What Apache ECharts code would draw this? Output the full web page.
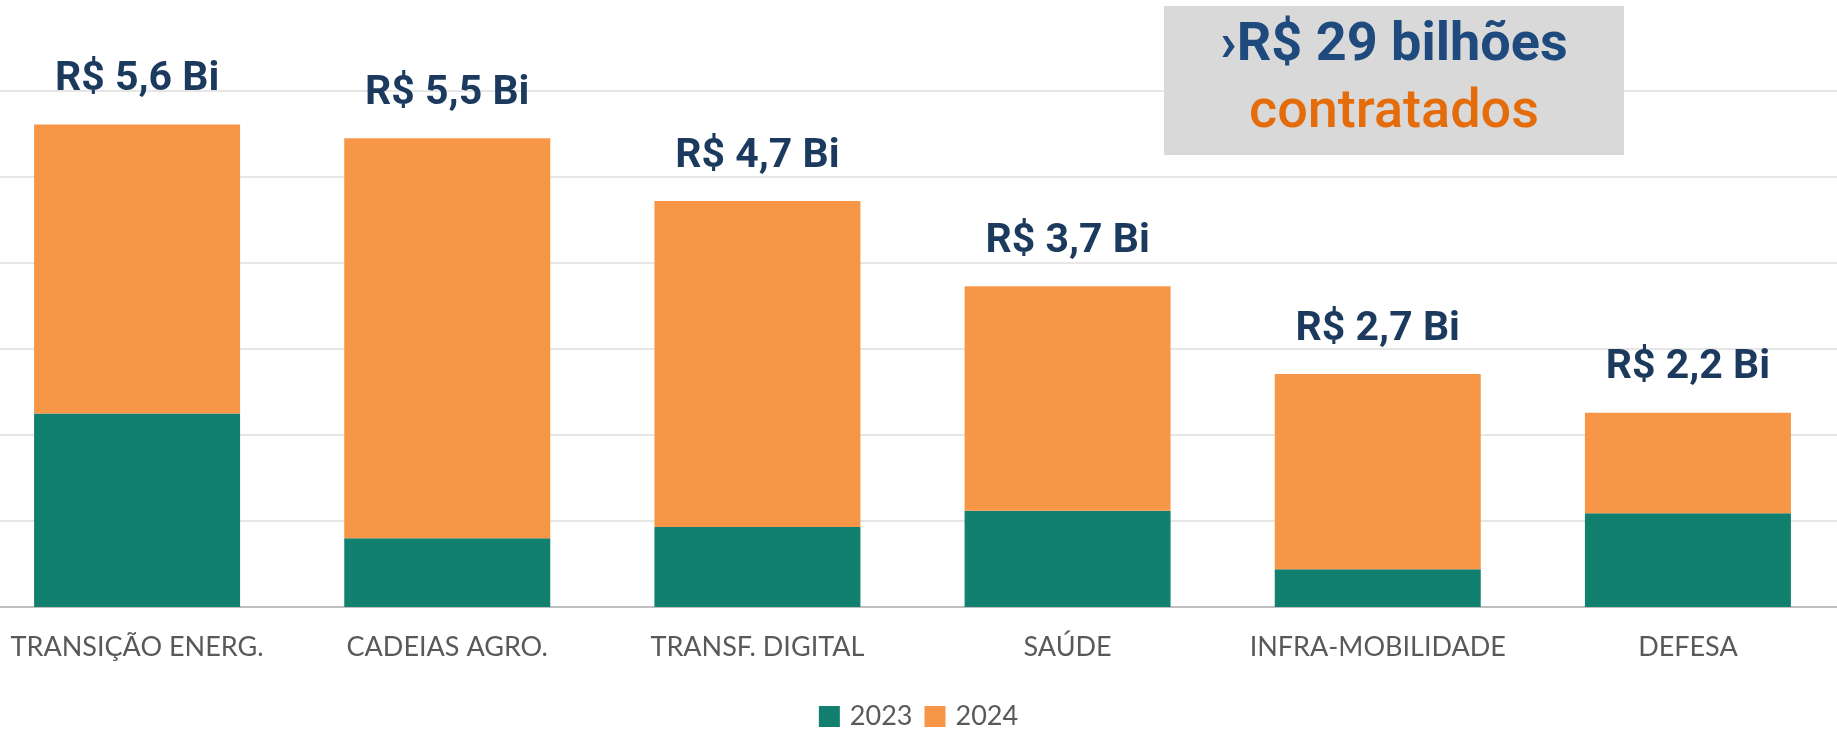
<!DOCTYPE html>
<html>
<head>
<meta charset="utf-8">
<title>Contratados por área</title>
<script src="https://cdn.jsdelivr.net/npm/echarts@6/dist/echarts.min.js"></script>
<style>
  html, body { margin: 0; padding: 0; background: #fff; }
  #chart { width: 1837px; height: 732px; }
</style>
</head>
<body>
<div id="chart"></div>
<script>
// valores em R$ bilhões
const categorias = ['TRANSIÇÃO ENERG.', 'CADEIAS AGRO.', 'TRANSF. DIGITAL', 'SAÚDE', 'INFRA-MOBILIDADE', 'DEFESA']
const valores2023 = [2.25, 0.80, 0.93, 1.12, 0.44, 1.09]
const valores2024 = [3.36, 4.65, 3.79, 2.61, 2.27, 1.17]
const rotulosTotal = ['R$ 5,6 Bi', 'R$ 5,5 Bi', 'R$ 4,7 Bi', 'R$ 3,7 Bi', 'R$ 2,7 Bi', 'R$ 2,2 Bi']
const anos = ['2023', '2024']

const chart = echarts.init(document.getElementById('chart'))

const option = {
  animation: false,
  color: ['#12806F', '#F79646'],
  grid: {
    left: -18,
    right: -6,
    top: 91,
    bottom: 125,
    outerBoundsMode: 'none',
  },
  legend: {
    data: anos,
    top: 703,
    left: 'center',
    padding: 0,
    icon: 'rect',
    itemWidth: 21,
    itemHeight: 21,
    itemGap: 12,
    textStyle: {
      fontFamily: 'Lato',
      fontSize: 27,
      color: '#595959',
      padding: [0, 0, 0, 5],
    },
  },
  xAxis: {
    type: 'category',
    data: categorias,
    axisTick: { show: false },
    axisLine: { lineStyle: { color: '#BFBFBF', width: 2 } },
    axisLabel: {
      fontFamily: 'Lato',
      fontSize: 27,
      color: '#595959',
      margin: 27,
      interval: 0,
    },
  },
  yAxis: {
    type: 'value',
    min: 0,
    max: 6,
    interval: 1,
    axisLabel: { show: false },
    axisLine: { show: false },
    axisTick: { show: false },
    splitLine: { lineStyle: { color: '#E6E6E6', width: 2 } },
  },
  series: [
    {
      name: anos[0],
      type: 'bar',
      stack: 'total',
      barWidth: 206,
      data: valores2023,
    },
    {
      name: anos[1],
      type: 'bar',
      stack: 'total',
      barWidth: 206,
      data: valores2024,
      label: {
        show: true,
        position: 'top',
        distance: 24,
        formatter: (p) => rotulosTotal[p.dataIndex],
        fontFamily: 'Roboto',
        fontWeight: 'bold',
        fontSize: 41,
        color: '#1C3A5E',
      },
    },
  ],
  graphic: [
    {
      type: 'rect',
      shape: { x: 1164, y: 6, width: 460, height: 149 },
      style: { fill: '#D9D9D9' },
      z: 10,
    },
    {
      type: 'text',
      x: 1394,
      y: 46,
      z: 11,
      style: {
        text: '›R$ 29 bilhões',
        fontFamily: 'Roboto',
        fontWeight: 'bold',
        fontSize: 54,
        fill: '#1F4A7E',
        align: 'center',
        verticalAlign: 'middle',
      },
    },
    {
      type: 'text',
      x: 1394,
      y: 113,
      z: 11,
      style: {
        text: 'contratados',
        fontFamily: 'Roboto',
        fontWeight: 500,
        fontSize: 54,
        fill: '#E46C0A',
        align: 'center',
        verticalAlign: 'middle',
      },
    },
  ],
}

chart.setOption(option)
</script>
</body>
</html>
